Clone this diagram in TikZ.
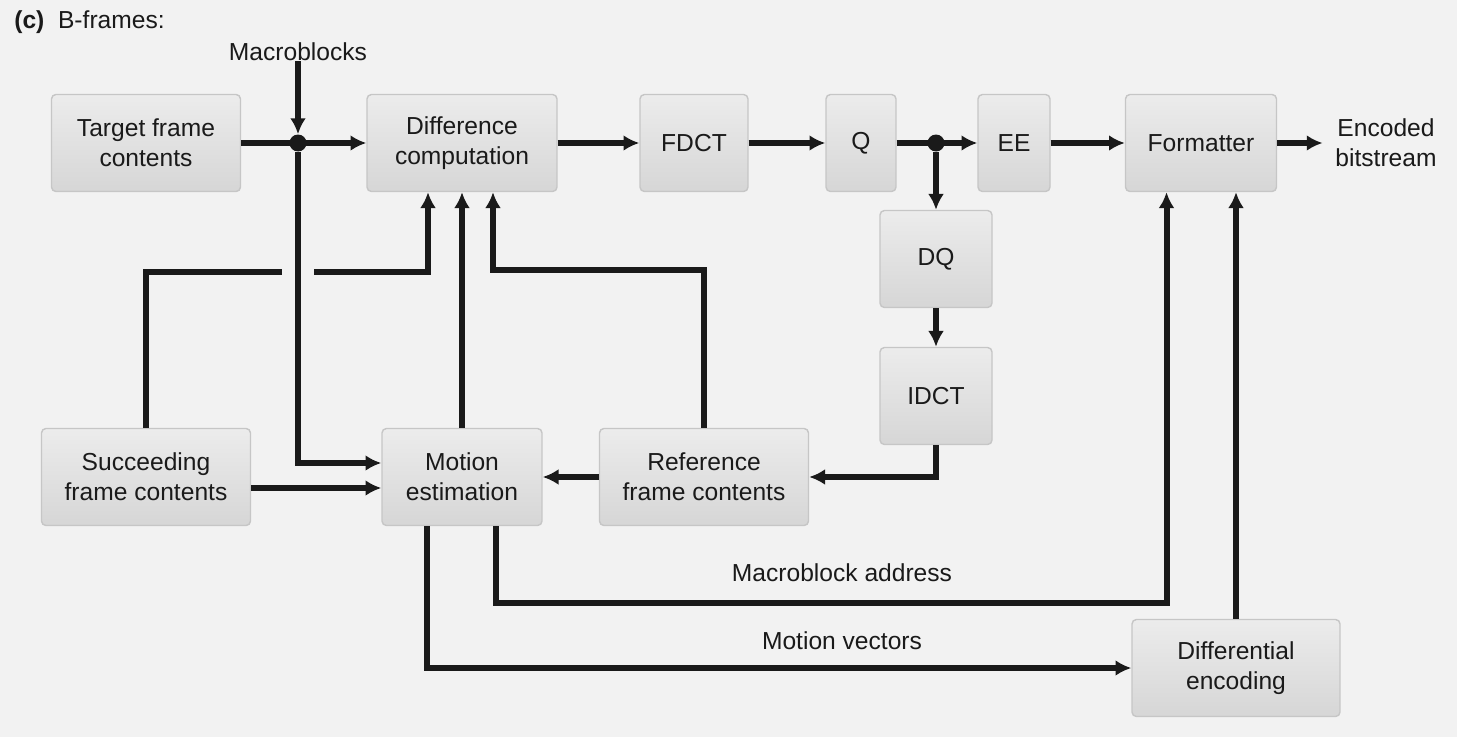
\documentclass[tikz,border=0pt]{standalone}
\usepackage{fontspec}
\setmainfont{Liberation Sans}
\usetikzlibrary{arrows.meta}
\definecolor{bg}{RGB}{242,242,242}
\definecolor{boxtop}{RGB}{236,236,236}
\definecolor{boxbot}{RGB}{214,214,214}
\definecolor{boxline}{RGB}{198,198,198}
\definecolor{ink}{RGB}{26,26,26}
\tikzset{
	block node/.style={rectangle, rounded corners=2.5pt, draw=boxline, line width=0.8pt, top color=boxtop, bottom color=boxbot, minimum height=1.94cm, align=center, inner sep=0pt, text=ink, font=\fontsize{14}{17}\selectfont},
	text node/.style={align=center, inner sep=0pt, text=ink, font=\fontsize{14}{17}\selectfont},
	dot node/.style={circle, fill=ink, inner sep=0pt, minimum size=0.34cm},
	flow/.style={draw=ink, line width=3.4pt, -{Latex[length=9pt,width=9pt]}},
	line/.style={draw=ink, line width=3.4pt},
}
\begin{document}
\begin{tikzpicture}[x=0.02cm, y=-0.02cm]
 
              \fill[bg] (0,0) rectangle (1457,737);
              \useasboundingbox (0,0) rectangle (1457,737);

              \node (title)[text node, anchor=west] at (14,22) {\textbf{(c)}\ \ B-frames:};
              \node (mb)[text node] at (298,52) {Macroblocks};
              \node (tfc)[block node, minimum width=3.78cm] at (146,143) {Target frame\\contents};
              \node (diff)[block node, minimum width=3.8cm] at (462,143) {Difference\\computation};
              \node (fdct)[block node, minimum width=2.16cm] at (694,143) {FDCT};
              \node (q)[block node, minimum width=1.4cm] at (861,143) {Q};
              \node (ee)[block node, minimum width=1.44cm] at (1014,143) {EE};
              \node (fmt)[block node, minimum width=3.02cm] at (1201,143) {Formatter};
              \node (out)[text node] at (1386,143) {Encoded\\bitstream};
              \node (dq)[block node, minimum width=2.24cm] at (936,259) {DQ};
              \node (idct)[block node, minimum width=2.24cm] at (936,396) {IDCT};
              \node (sfc)[block node, minimum width=4.18cm] at (146,477) {Succeeding\\frame contents};
              \node (me)[block node, minimum width=3.2cm] at (462,477) {Motion\\estimation};
              \node (rfc)[block node, minimum width=4.18cm] at (704,477) {Reference\\frame contents};
              \node (de)[block node, minimum width=4.16cm] at (1236,668) {Differential\\encoding};
              \node (j1)[dot node] at (298,143) {};
              \node (j2)[dot node] at (936,143) {};
              \coordinate (g1) at (282,272);
              \coordinate (g2) at (314,272);
              \coordinate (c1) at (600,270);
              \coordinate (c2) at (800,603);

              \draw[flow] (mb) -- (j1);
              \draw[flow] (tfc) -- (diff);
              \draw[flow] (j1) |- ([yshift=0.28cm]me.west);
              \draw[flow] (diff) -- (fdct);
              \draw[flow] (fdct) -- (q);
              \draw[flow] (q) -- (ee);
              \draw[flow] (j2) -- (dq);
              \draw[flow] (dq) -- (idct);
              \draw[flow] (ee) -- (fmt);
              \draw[flow] (fmt) -- ([xshift=-0.25cm]out.west);
              \draw[flow] (idct) |- (rfc);
              \draw[flow] (rfc) -- (me);
              \draw[flow] ([yshift=-0.22cm]sfc.east) -- ([yshift=-0.22cm]me.west);
              \draw[line] (sfc) |- (g1);
              \draw[flow] (g2) -| ([xshift=-0.68cm]diff.south);
              \draw[flow] (me) -- (diff);
              \draw[flow] (rfc) |- (c1) -| ([xshift=0.62cm]diff.south);
              \draw[flow] ([xshift=0.68cm]me.south) |- (c2) -| ([xshift=-0.69cm]fmt.south);
              \draw[flow] ([xshift=-0.7cm]me.south) |- (de);
              \draw[flow] (de) -- (de |- fmt.south);
              \node (mba)[text node] at (842,573) {Macroblock address};
              \node (mv)[text node] at (842,641) {Motion vectors};
            
          \end{tikzpicture}
\end{document}
